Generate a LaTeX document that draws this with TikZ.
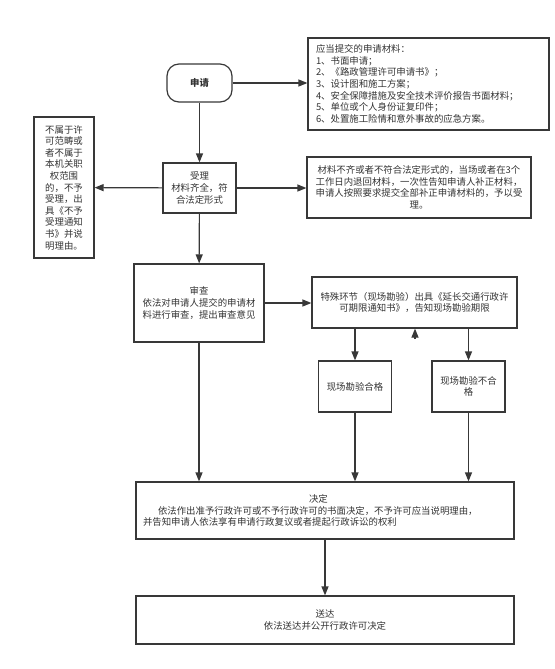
\documentclass[tikz,border=0pt]{standalone}
\usepackage{fontspec}
\setmainfont{Noto Sans CJK SC}
\usetikzlibrary{positioning, arrows.meta}

\begin{document}
\begin{tikzpicture}[
    x=1pt, y=-1pt,
    font=\fontsize{9.4}{11.6}\selectfont,
    line/.style={draw=black!78, line width=1.2pt},
    box/.style={
        rectangle,
        line,
        align=center,
        inner sep=0pt,
        text=black!80
    },
    start/.style={box, rounded corners=12pt, font=\fontsize{9.4}{11.6}\selectfont\bfseries},
    arrow/.style={line, -{Triangle[length=9pt, width=7pt]}}
]

\useasboundingbox (0,0) rectangle (554,669);

\node[start, minimum width=65pt, minimum height=38pt] (apply) at (199.5,83) {申请};
\node[box, minimum width=241pt, minimum height=92pt, align=left, text width=225pt] (materials) at (428.5,84) {应当提交的申请材料：\\1、书面申请；\\2、《路政管理许可申请书》；\\3、设计图和施工方案；\\4、安全保障措施及安全技术评价报告书面材料；\\5、单位或个人身份证复印件；\\6、处置施工险情和意外事故的应急方案。};

\node[box, minimum width=73pt, minimum height=50pt] (accept) at (199.5,188) {受理\\材料齐全，符\\合法定形式};
\node[box, minimum width=60pt, minimum height=141pt] (reject) at (64,187.5) {不属于许\\可范畴或\\者不属于\\本机关职\\权范围\\的，不予\\受理，出\\具《不予\\受理通知\\书》并说\\明理由。};
\node[box, minimum width=224pt, minimum height=61pt] (supplement) at (419,187.5) {材料不齐或者不符合法定形式的，当场或者在3个\\工作日内退回材料，一次性告知申请人补正材料，\\申请人按照要求提交全部补正申请材料的，予以受\\理。};

\node[box, minimum width=130pt, minimum height=78pt] (review) at (199,303) {审查\\依法对申请人提交的申请材\\料进行审查，提出审查意见};
\node[box, minimum width=205pt, minimum height=51pt] (special) at (414.5,302.5) {特殊环节（现场勘验）出具《延长交通行政许\\可期限通知书》，告知现场勘验期限};
\node[box, minimum width=73pt, minimum height=51pt] (passok) at (355,386.5) {现场勘验合格};
\node[box, minimum width=73pt, minimum height=51pt] (passno) at (468.5,386.5) {现场勘验不合\\格};

\node[box, minimum width=378pt, minimum height=57pt, align=left, text width=364pt] (decide) at (325,510.5) {\hspace*{166pt}决定\\\hspace*{15pt}依法作出准予行政许可或不予行政许可的书面决定，不予许可应当说明理由，\\并告知申请人依法享有申请行政复议或者提起行政诉讼的权利};
\node[box, minimum width=378pt, minimum height=48pt] (deliver) at (325,620) {送达\\依法送达并公开行政许可决定};

\coordinate (stub) at (415,339);

\draw[arrow] (apply) -- (materials.west |- apply);
\draw[arrow] (apply) -- (accept);
\draw[arrow] (accept) -- (reject);
\draw[arrow] (accept) -- (supplement.west |- accept);
\draw[arrow] (accept) -- (review);
\draw[arrow] (review) -- (special.west |- review);
\draw[arrow] (passok |- special.south) -- (passok);
\draw[arrow] (passno |- special.south) -- (passno);
\draw[arrow] (stub) -- (stub |- special.south);
\draw[arrow] (review) -- (review |- decide.north);
\draw[arrow] (passok) -- (passok |- decide.north);
\draw[arrow] (passno) -- (passno |- decide.north);
\draw[arrow] (decide.south -| deliver) -- (deliver);

\end{tikzpicture}
\end{document}
